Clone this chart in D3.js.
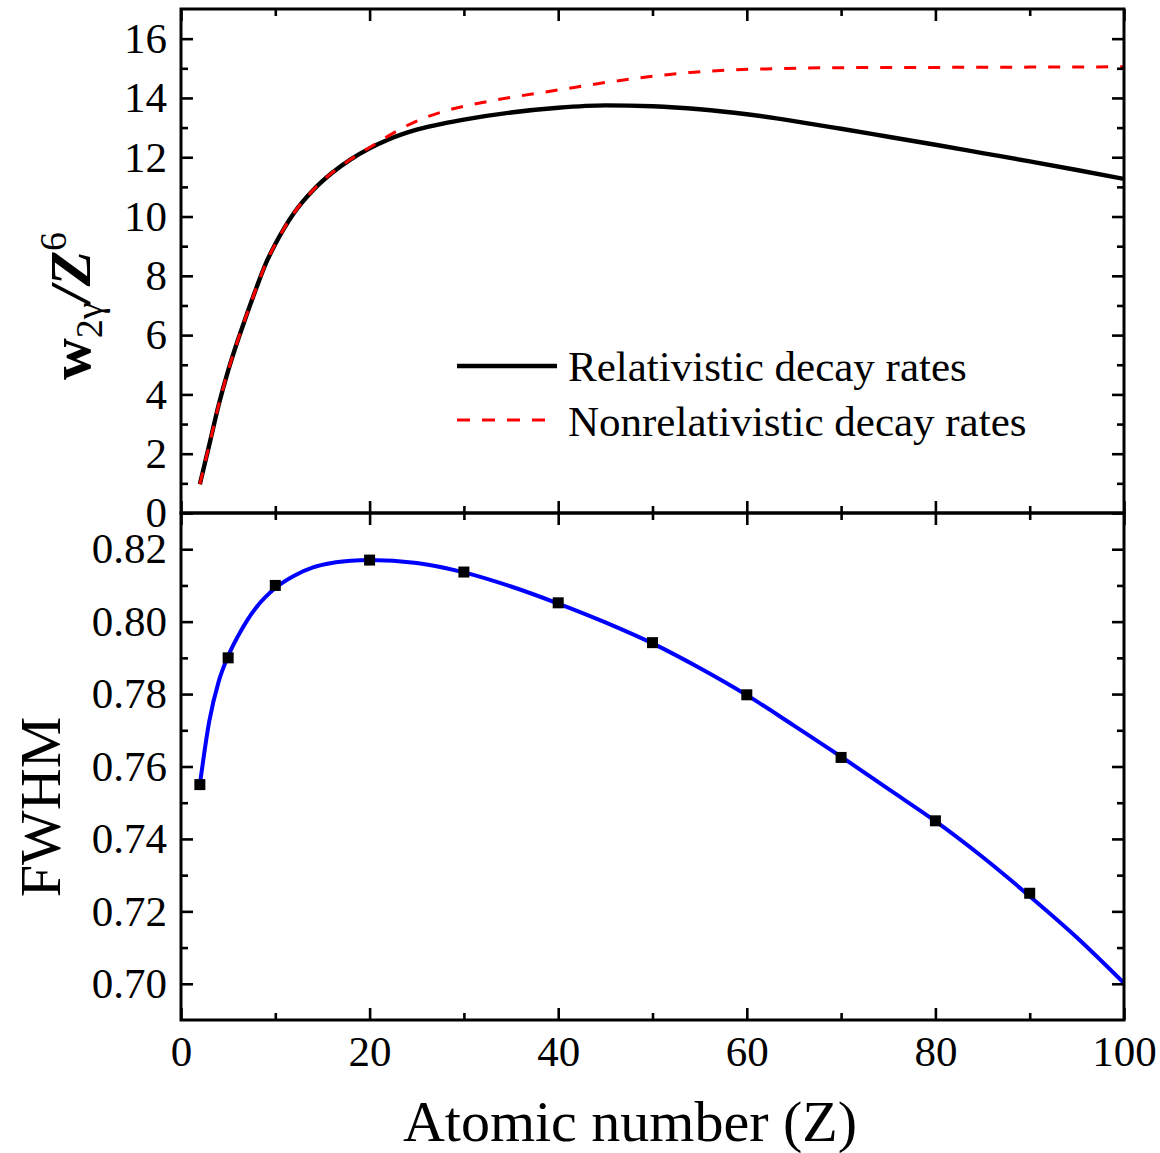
<!DOCTYPE html>
<html>
<head>
<meta charset="utf-8">
<script src="https://cdn.jsdelivr.net/npm/d3@7"></script>
<style>
  html, body { margin: 0; padding: 0; background: #fff; }
  svg { display: block; }
  text { font-family: "Liberation Serif", "Times New Roman", serif; fill: #000; }
</style>
</head>
<body>
<svg id="chart" width="1160" height="1153"></svg>
<script>
// Two-photon decay rate (scaled by Z^6) versus atomic number
const relZ = [2,3,4,5,6,7,8,9,10,12,14,16,18,20,22,25,28,30,35,40,45,50,55,60,65,70,75,80,85,90,95,100];
const relW = [0.97,2.3,3.65,4.8,5.8,6.72,7.6,8.42,9.07,10.13,10.89,11.47,11.93,12.3,12.6,12.93,13.15,13.27,13.51,13.67,13.75,13.72,13.62,13.45,13.22,12.96,12.69,12.42,12.14,11.86,11.57,11.27];

const nrZ = [2,3,4,5,6,7,8,9,10,12,14,16,18,20,22,24,26,28,30,33,36,39,42,45,48,50,54,58,62,66,70,80,90,100];
const nrW = [0.97,2.3,3.65,4.8,5.8,6.72,7.6,8.42,9.07,10.13,10.89,11.47,11.93,12.33,12.72,13.07,13.35,13.56,13.72,13.91,14.07,14.22,14.37,14.52,14.65,14.73,14.86,14.94,14.98,15.01,15.02,15.03,15.04,15.05];

// FWHM of the spectral distribution: computed points and smooth fit
const fwZ = [2,5,10,20,30,40,50,60,70,80,90];
const fwV = [0.755,0.790,0.810,0.817,0.8137,0.8052,0.7942,0.7798,0.7625,0.745,0.725];

const fitZ = [2,3,4,5,6,7,8,10,12,14,16,18,20,25,30,35,40,45,50,55,60,65,70,75,80,85,90,95,100];
const fitV = [0.755,0.7725,0.7835,0.7905,0.7958,0.8003,0.8040,0.8093,0.8127,0.815,0.8162,0.8168,0.817,0.8162,0.8136,0.8097,0.8050,0.7998,0.7940,0.7872,0.7797,0.7713,0.7627,0.7538,0.7449,0.7350,0.7242,0.7128,0.7002];

// Tick values
const xMajor = [0,20,40,60,80,100];
const xMinor = [10,30,50,70,90];
const wMajor = [0,2,4,6,8,10,12,14,16];
const wMinor = [1,3,5,7,9,11,13,15];
const fMajor = [0.70,0.72,0.74,0.76,0.78,0.80,0.82];
const fMinor = [0.71,0.73,0.75,0.77,0.79,0.81];

const legendLabels = ["Relativistic decay rates", "Nonrelativistic decay rates"];

const svg = d3.select("#chart");
const L = 181, R = 1124, T = 9, M = 513, B = 1020;

const x = d3.scaleLinear().domain([0, 100]).range([L, R]);
const yW = d3.scaleLinear().domain([0, 17]).range([M, T]);
const yF = d3.scaleLinear().domain([0.69, 0.83]).range([B, M]);

const FS = 43;
const MAJ = 12, MIN = 7;

function styleAxis(g) {
  g.select(".domain").remove();
  g.selectAll(".tick line").attr("stroke", "#000").attr("stroke-width", 2.6);
  g.selectAll(".tick text").style("font-size", FS + "px")
    .style("font-family", '"Liberation Serif", "Times New Roman", serif');
}

function addAxis(axis, tr) {
  const g = svg.append("g").attr("transform", tr).call(axis);
  styleAxis(g);
  return g;
}

// clip regions for the two panels
const defs = svg.append("defs");
defs.append("clipPath").attr("id", "clipTop").append("rect")
  .attr("x", L).attr("y", T).attr("width", R - L).attr("height", M - T);
defs.append("clipPath").attr("id", "clipBot").append("rect")
  .attr("x", L).attr("y", M).attr("width", R - L).attr("height", B - M);

// ---- top panel curves ----
const lineW = d3.line().x(d => x(d[0])).y(d => yW(d[1])).curve(d3.curveMonotoneX);
svg.append("path")
  .datum(relZ.map((z, i) => [z, relW[i]]))
  .attr("clip-path", "url(#clipTop)")
  .attr("d", lineW).attr("fill", "none").attr("stroke", "#000").attr("stroke-width", 4.4);
svg.append("path")
  .datum(nrZ.map((z, i) => [z, nrW[i]]))
  .attr("clip-path", "url(#clipTop)")
  .attr("d", lineW).attr("fill", "none").attr("stroke", "#ff0000").attr("stroke-width", 3)
  .attr("stroke-dasharray", "12,12");

// ---- bottom panel fit and points ----
const lineF = d3.line().x(d => x(d[0])).y(d => yF(d[1])).curve(d3.curveMonotoneX);
svg.append("path")
  .datum(fitZ.map((z, i) => [z, fitV[i]]))
  .attr("clip-path", "url(#clipBot)")
  .attr("d", lineF).attr("fill", "none").attr("stroke", "#0000ff").attr("stroke-width", 4);

const S = 11;
svg.append("g").selectAll("rect").data(fwZ.map((z, i) => [z, fwV[i]])).join("rect")
  .attr("x", d => x(d[0]) - S / 2).attr("y", d => yF(d[1]) - S / 2)
  .attr("width", S).attr("height", S).attr("fill", "#000");

// ---- axes: top panel ----
addAxis(d3.axisLeft(yW).tickValues(wMajor).tickSize(-MAJ).tickPadding(14).tickFormat(d3.format("d")), `translate(${L},0)`);
addAxis(d3.axisLeft(yW).tickValues(wMinor).tickSize(-MIN).tickFormat(""), `translate(${L},0)`);
addAxis(d3.axisRight(yW).tickValues(wMajor).tickSize(-MAJ).tickFormat(""), `translate(${R},0)`);
addAxis(d3.axisRight(yW).tickValues(wMinor).tickSize(-MIN).tickFormat(""), `translate(${R},0)`);
addAxis(d3.axisTop(x).tickValues(xMajor).tickSize(-MAJ).tickFormat(""), `translate(0,${T})`);
addAxis(d3.axisTop(x).tickValues(xMinor).tickSize(-MIN).tickFormat(""), `translate(0,${T})`);
// shared middle edge: ticks point into both panels
addAxis(d3.axisBottom(x).tickValues(xMajor).tickSize(-MAJ).tickFormat(""), `translate(0,${M})`);
addAxis(d3.axisBottom(x).tickValues(xMinor).tickSize(-MIN).tickFormat(""), `translate(0,${M})`);
addAxis(d3.axisTop(x).tickValues(xMajor).tickSize(-MAJ).tickFormat(""), `translate(0,${M})`);
addAxis(d3.axisTop(x).tickValues(xMinor).tickSize(-MIN).tickFormat(""), `translate(0,${M})`);

// ---- axes: bottom panel ----
addAxis(d3.axisLeft(yF).tickValues(fMajor).tickSize(-MAJ).tickPadding(14).tickFormat(d3.format(".2f")), `translate(${L},0)`);
addAxis(d3.axisLeft(yF).tickValues(fMinor).tickSize(-MIN).tickFormat(""), `translate(${L},0)`);
addAxis(d3.axisRight(yF).tickValues(fMajor).tickSize(-MAJ).tickFormat(""), `translate(${R},0)`);
addAxis(d3.axisRight(yF).tickValues(fMinor).tickSize(-MIN).tickFormat(""), `translate(${R},0)`);
addAxis(d3.axisBottom(x).tickValues(xMajor).tickSize(-MAJ).tickPadding(15).tickFormat(d3.format("d")), `translate(0,${B})`);
addAxis(d3.axisBottom(x).tickValues(xMinor).tickSize(-MIN).tickFormat(""), `translate(0,${B})`);

// ---- frames ----
svg.append("rect").attr("x", L).attr("y", T).attr("width", R - L).attr("height", M - T)
  .attr("fill", "none").attr("stroke", "#000").attr("stroke-width", 3);
svg.append("rect").attr("x", L).attr("y", M).attr("width", R - L).attr("height", B - M)
  .attr("fill", "none").attr("stroke", "#000").attr("stroke-width", 3);

// ---- legend ----
const lg = svg.append("g");
lg.append("line").attr("x1", 457).attr("x2", 557).attr("y1", 366).attr("y2", 366)
  .attr("stroke", "#000").attr("stroke-width", 4.4);
lg.append("text").attr("x", 568).attr("y", 381).style("font-size", FS + "px").text(legendLabels[0]);
lg.append("line").attr("x1", 457).attr("x2", 557).attr("y1", 420).attr("y2", 420)
  .attr("stroke", "#ff0000").attr("stroke-width", 3).attr("stroke-dasharray", "13,12");
lg.append("text").attr("x", 568).attr("y", 436).style("font-size", FS + "px").text(legendLabels[1]);

// ---- axis titles ----
svg.append("text").attr("x", 630).attr("y", 1141).attr("text-anchor", "middle")
  .style("font-size", "58px").text("Atomic number (Z)");

svg.append("text").attr("transform", "translate(60,807) rotate(-90)")
  .attr("text-anchor", "middle").style("font-size", "58px").text("FWHM");

const yt = svg.append("text").attr("transform", "translate(90,306) rotate(-90)")
  .attr("text-anchor", "middle").style("font-size", "58px");
yt.append("tspan").style("font-weight", "bold").text("w");
yt.append("tspan").attr("dy", 12).style("font-size", "38px").text("2γ");
yt.append("tspan").attr("dy", -12).style("font-weight", "bold").style("font-style", "italic").text("/Z");
yt.append("tspan").attr("dy", -24).style("font-size", "38px").text("6");
</script>
</body>
</html>
